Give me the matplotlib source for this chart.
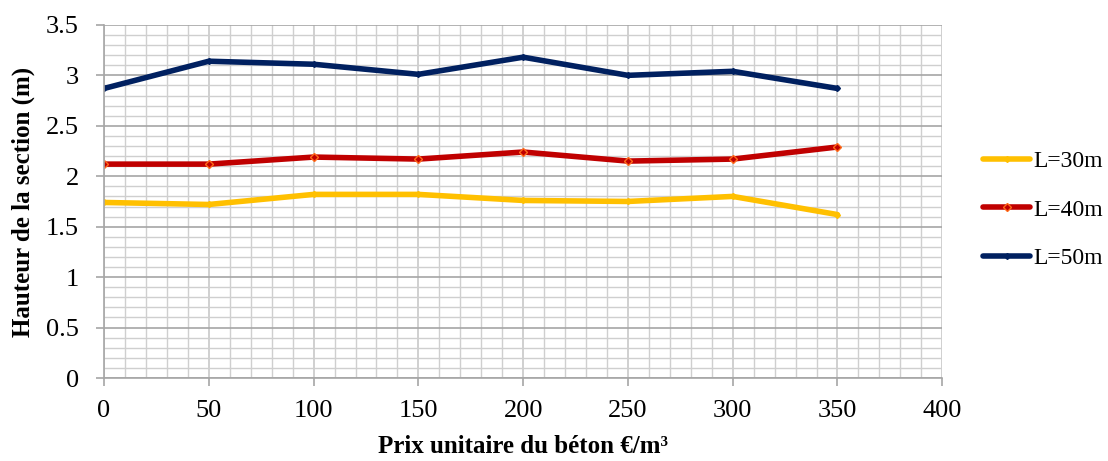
import matplotlib.pyplot as plt
from matplotlib.ticker import MultipleLocator

plt.rcParams['font.family'] = ['Liberation Serif', 'DejaVu Serif']

# Prix unitaire du béton (€/m3)
prix = [0, 50, 100, 150, 200, 250, 300, 350]

# Hauteur de la section (m) pour chaque portée
h_30 = [1.74, 1.72, 1.82, 1.82, 1.76, 1.75, 1.80, 1.62]
h_40 = [2.12, 2.12, 2.19, 2.17, 2.24, 2.15, 2.17, 2.29]
h_50 = [2.87, 3.14, 3.11, 3.01, 3.18, 3.00, 3.04, 2.87]

labels = ['L=30m', 'L=40m', 'L=50m']

fig = plt.figure(figsize=(11.08, 4.61), dpi=100)
ax = fig.add_axes([0.0939, 0.180, 0.7565, 0.766])

ax.plot(prix, h_30, '-D', color='#FFC000', lw=4, ms=3, mfc='#FFC000', mec='#FFC000',
        solid_capstyle='round', label=labels[0])
ax.plot(prix, h_40, '-D', color='#C00000', lw=4, ms=4.5, mfc='#C00000', mec='#FF6A1A',
        mew=1, solid_capstyle='round', label=labels[1])
ax.plot(prix, h_50, '-D', color='#002060', lw=4, ms=3, mfc='#002060', mec='#002060',
        solid_capstyle='round', label=labels[2])

ax.set_xlim(0, 400)
ax.set_ylim(0, 3.5)
ax.xaxis.set_major_locator(MultipleLocator(50))
ax.xaxis.set_minor_locator(MultipleLocator(10))
ax.yaxis.set_major_locator(MultipleLocator(0.5))
ax.yaxis.set_minor_locator(MultipleLocator(0.1))
ax.yaxis.set_major_formatter(plt.FuncFormatter(lambda v, p: f'{v:g}'))

ax.grid(which='major', axis='y', color='#a6a6a6', lw=1.2)
ax.grid(which='major', axis='x', color='#c8c8c8', lw=1.2)
ax.grid(which='minor', color='#cfcfcf', lw=1.0)
ax.set_axisbelow(True)

for s in ['top', 'right']:
    ax.spines[s].set_visible(False)
for s in ['left', 'bottom']:
    ax.spines[s].set_color('#a6a6a6')
    ax.spines[s].set_linewidth(1.2)

ax.tick_params(which='major', length=6, width=1.2, color='#a6a6a6', labelsize=19)
ax.tick_params(axis='x', pad=10)
ax.tick_params(axis='y', pad=12)
ax.tick_params(which='minor', length=0)

ax.set_xlabel('Prix unitaire du béton €/m³', fontsize=18, fontweight='bold', labelpad=9)
ax.set_ylabel('Hauteur de la section (m)', fontsize=18, fontweight='bold', labelpad=8)

fig.legend(loc='center left', bbox_to_anchor=(0.868, 0.545), frameon=False,
           fontsize=17, handlelength=2.0, handletextpad=0.15, labelspacing=1.15)

fig.savefig('out.png', dpi=100)
